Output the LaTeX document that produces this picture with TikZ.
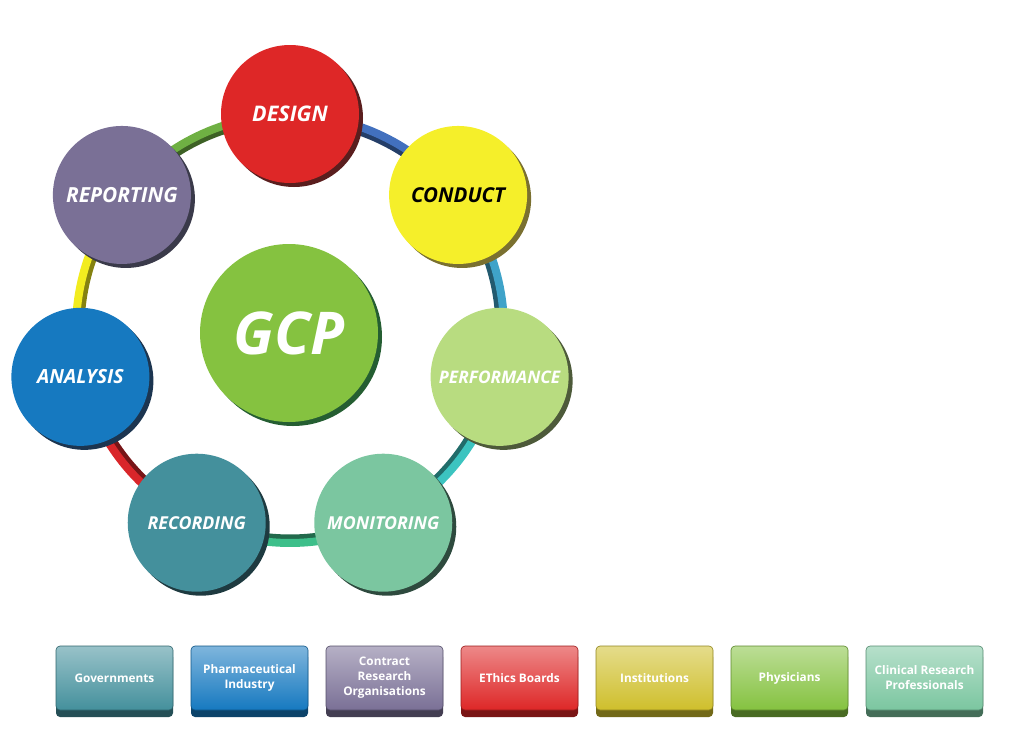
\documentclass[tikz,border=0pt]{standalone}
\usepackage{fontspec}
\setmainfont{Open Sans}
\usetikzlibrary{shadows,calc}
\definecolor{cDesign}{HTML}{DE2727}
\definecolor{sDesign}{HTML}{5A1E1E}
\definecolor{cConduct}{HTML}{F5EF2A}
\definecolor{sConduct}{HTML}{7A7030}
\definecolor{cPerf}{HTML}{B8DC80}
\definecolor{sPerf}{HTML}{4D5A3A}
\definecolor{cMon}{HTML}{7BC6A0}
\definecolor{sMon}{HTML}{2E4A3E}
\definecolor{cRec}{HTML}{44909C}
\definecolor{sRec}{HTML}{1E3A40}
\definecolor{cAna}{HTML}{1679C0}
\definecolor{sAna}{HTML}{1C3550}
\definecolor{cRep}{HTML}{7A7096}
\definecolor{sRep}{HTML}{3A3A4A}
\definecolor{cGcp}{HTML}{85C240}
\definecolor{sGcp}{HTML}{255E32}
\definecolor{rA}{HTML}{4270BE}
\definecolor{rB}{HTML}{3FA3C9}
\definecolor{rC}{HTML}{3CC4C0}
\definecolor{rD}{HTML}{3DBF8A}
\definecolor{rE}{HTML}{D9262A}
\definecolor{rF}{HTML}{F2EC1F}
\definecolor{rG}{HTML}{6FB043}
\definecolor{cInst}{HTML}{CFBF2C}
\newcommand\stagefont[1]{\fontsize{#1}{#1}\selectfont\bfseries\itshape}
\begin{document}
\begin{tikzpicture}[x=1pt,y=-1pt,
  stage/.style={circle, minimum size=138pt, inner sep=0pt, fill=#1,
     font=\stagefont{21.5}, text=white},
  shd/.style={drop shadow={fill=#1, opacity=1, shadow xshift=4pt, shadow yshift=-4pt}},
  grp/.style={rectangle, rounded corners=4pt, minimum width=117pt, minimum height=64pt,
     inner sep=0pt, draw=#1!70!black, line width=0.6pt,
     top color=#1!55!white, middle color=#1, bottom color=#1,
     font=\fontsize{11.8}{15}\selectfont\bfseries, text=white, align=center,
     drop shadow={fill=#1!55!black, opacity=1, shadow xshift=0pt, shadow yshift=-7pt}},
  ringc/.style={line width=8pt, draw=#1},
  ringd/.style={line width=5pt, draw=#1!55!black}
]
\useasboundingbox (0,0) rectangle (1031,729);
\coordinate (ctr) at (290,329);
% ring segments
\foreach \a/\c in {-90/rA, -38.57/rB, 12.86/rC, 64.29/rD, 115.71/rE, 167.14/rF, 218.57/rG}{
  \draw[ringd=\c] (ctr) ++(\a:208) arc[start angle=\a, end angle=\a+51.43, radius=208];
  \draw[ringc=\c] (ctr) ++(\a:214) arc[start angle=\a, end angle=\a+51.43, radius=214];
}
% central node
\node[circle, minimum size=178pt, inner sep=0pt, fill=cGcp, shd=sGcp,
  font=\stagefont{59}, text=white] (gcp) at (289,333) {GCP};
% stages
\node[stage=cDesign, shd=sDesign] (design) at ($(ctr)+(-90:215)$) {DESIGN};
\node[stage=cConduct, shd=sConduct, text=black, font=\stagefont{20.5}] (conduct) at ($(ctr)+(-38.57:215)$) {CONDUCT};
\node[stage=cPerf, shd=sPerf, font=\stagefont{17.3}] (perf) at ($(ctr)+(12.86:215)$) {PERFORMANCE};
\node[stage=cMon, shd=sMon, font=\stagefont{17.8}] (mon) at ($(ctr)+(64.29:215)$) {MONITORING};
\node[stage=cRec, shd=sRec, font=\stagefont{17.8}] (rec) at ($(ctr)+(115.71:215)$) {RECORDING};
\node[stage=cAna, shd=sAna, font=\stagefont{19.5}] (ana) at ($(ctr)+(167.14:215)$) {ANALYSIS};
\node[stage=cRep, shd=sRep, font=\stagefont{20.8}] (rep) at ($(ctr)+(218.57:215)$) {REPORTING};
% stakeholder boxes
\node[grp=cRec]    (gov)  at (114.5,678) {Governments};
\node[grp=cAna]    (pharm) at (249.5,678) {Pharmaceutical\\Industry};
\node[grp=cRep]    (cro)  at (384.5,678) {Contract\\Research\\Organisations};
\node[grp=cDesign] (eth)  at (519.5,678) {EThics Boards};
\node[grp=cInst]   (inst) at (654.5,678) {Institutions};
\node[grp=cGcp]    (phys) at (789.5,678) {Physicians};
\node[grp=cMon]    (crp)  at (924.5,678) {Clinical Research\\Professionals};
\end{tikzpicture}
\end{document}
